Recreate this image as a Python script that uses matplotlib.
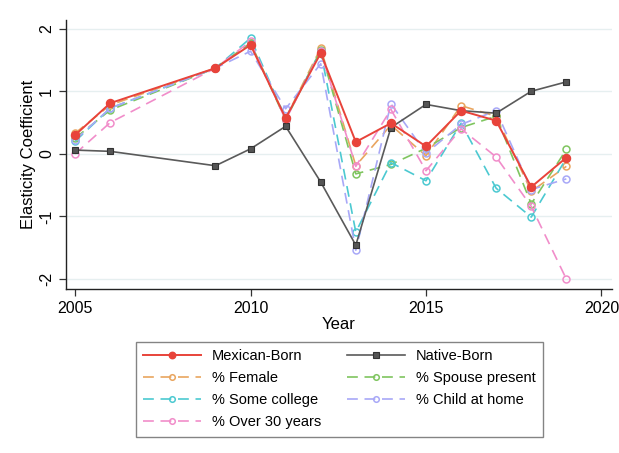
import numpy as np
import matplotlib
matplotlib.use('Agg')
import matplotlib.pyplot as plt

plt.rcParams['font.family'] = ['Liberation Sans', 'DejaVu Sans']

years = [2005, 2006, 2009, 2010, 2011, 2012, 2013, 2014, 2015, 2016, 2017, 2018, 2019]

mexican_born = [0.30, 0.81, 1.37, 1.74, 0.57, 1.61, 0.19, 0.49, 0.12, 0.69, 0.53, -0.53, -0.06]
native_born = [0.06, 0.04, -0.19, 0.08, 0.44, -0.45, -1.46, 0.42, 0.79, 0.69, 0.65, 1.00, 1.15]
pct_female = [0.33, 0.78, 1.37, 1.77, 0.57, 1.69, -0.19, 0.46, -0.03, 0.77, 0.60, -0.60, -0.20]
pct_spouse = [0.25, 0.70, 1.37, 1.77, 0.54, 1.66, -0.32, -0.17, 0.09, 0.42, 0.60, -0.80, 0.07]
pct_college = [0.20, 0.73, 1.37, 1.85, 0.57, 1.64, -1.25, -0.14, -0.43, 0.49, -0.55, -1.01, -0.07]
pct_child = [0.22, 0.73, 1.37, 1.64, 0.72, 1.44, -1.54, 0.80, 0.01, 0.47, 0.69, -0.57, -0.40]
pct_over30 = [0.00, 0.50, 1.37, 1.80, 0.54, 1.64, -0.20, 0.71, -0.27, 0.40, -0.05, -0.84, -2.00]

dashed_series = [
    ('% Female', pct_female, '#e9a55f'),
    ('% Spouse present', pct_spouse, '#7fc55f'),
    ('% Some college', pct_college, '#4cc9d1'),
    ('% Child at home', pct_child, '#a8a8f7'),
    ('% Over 30 years', pct_over30, '#f18dca'),
]

fig = plt.figure(figsize=(6.19, 4.53), dpi=100)
ax = fig.add_axes([0.1066, 0.362, 0.882, 0.594])

handles = {}
for label, vals, col in dashed_series:
    h, = ax.plot(years, vals, color=col, linestyle=(0, (6.5, 4)), linewidth=1.2,
                 marker='o', markersize=5, markerfacecolor='none',
                 markeredgecolor=col, markeredgewidth=1.1, label=label, zorder=2)
    handles[label] = h

h_nat, = ax.plot(years, native_born, color='#5a5a5a', linewidth=1.2, marker='s',
                 markersize=4.8, markerfacecolor='#555555', markeredgecolor='#333333',
                 markeredgewidth=0.8, label='Native-Born', zorder=3)
h_mex, = ax.plot(years, mexican_born, color='#e8433a', linewidth=1.4, marker='o',
                 markersize=5.8, markerfacecolor='#e8433a', markeredgecolor='#e8433a',
                 label='Mexican-Born', zorder=4)

ax.set_xlim(2004.74, 2020.3)
ax.set_ylim(-2.16, 2.14)
ax.set_xticks([2005, 2010, 2015, 2020])
ax.set_yticks([-2, -1, 0, 1, 2])
ax.set_yticklabels(['-2', '-1', '0', '1', '2'], rotation=90, va='center')
ax.tick_params(axis='both', labelsize=11.5, length=5, width=0.9, color='#333333')
ax.grid(True, axis='y', color='#e6eff0', linewidth=1.0)
ax.set_axisbelow(True)
for side in ('top', 'right'):
    ax.spines[side].set_visible(False)
for side in ('left', 'bottom'):
    ax.spines[side].set_linewidth(1.0)
    ax.spines[side].set_color('#222222')

ax.set_xlabel('Year', fontsize=12, labelpad=1)
ax.set_ylabel('Elasticity Coefficient', fontsize=12, labelpad=2)

order = [h_mex, handles['% Female'], handles['% Some college'], handles['% Over 30 years'],
         h_nat, handles['% Spouse present'], handles['% Child at home']]
leg = fig.legend(order, [h.get_label() for h in order], loc='upper center',
                 bbox_to_anchor=(0.548, 0.245), ncol=2, fontsize=10.5,
                 handlelength=4.0, markerscale=0.8, frameon=True, fancybox=False,
                 edgecolor='#666666', borderpad=0.5, labelspacing=0.55,
                 columnspacing=1.8, handletextpad=0.7, borderaxespad=0)
leg.get_frame().set_linewidth(1.0)

fig.savefig('out.png', dpi=100)
